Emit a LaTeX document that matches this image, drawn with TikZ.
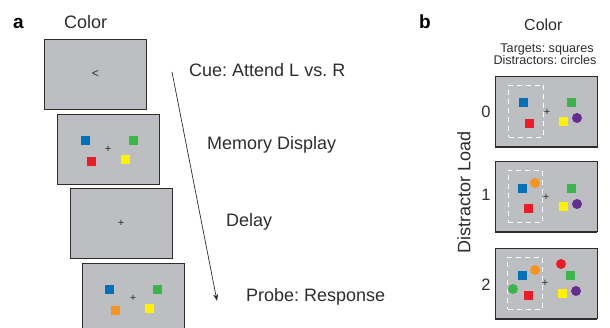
\documentclass[tikz,border=0pt]{standalone}
\usepackage{fontspec}
\setmainfont{Liberation Sans}
\frenchspacing
\usetikzlibrary{arrows.meta}
\usetikzlibrary{positioning}
\definecolor{screengray}{RGB}{189,190,194}
\definecolor{inkgray}{RGB}{45,45,45}
\definecolor{cblue}{RGB}{0,114,188}
\definecolor{cgreen}{RGB}{57,181,74}
\definecolor{cred}{RGB}{237,28,36}
\definecolor{cyellow}{RGB}{255,242,0}
\definecolor{corange}{RGB}{247,148,29}
\definecolor{cpurple}{RGB}{102,45,145}
\tikzset{screen/.style = {draw=inkgray, fill=screengray, line width=0.9pt,
                          minimum width=102pt, minimum height=70pt, inner sep=0}}
\tikzset{screenedge/.style = {draw=inkgray, line width=1.6pt}}
\tikzset{sq/.style = {fill=#1, rectangle, inner sep=0, minimum size=9pt}}
\tikzset{dot/.style = {fill=#1, circle, inner sep=0, minimum size=10pt}}
\tikzset{fixcross/.style = {inner sep=0, text=inkgray, font=\fontsize{11}{11}\selectfont}}
\tikzset{cuebox/.style = {draw=white, dash pattern=on 5pt off 4pt, line width=0.8pt,
                          minimum width=34.5pt, minimum height=52pt, inner sep=0}}
\tikzset{stagetext/.style = {anchor=base west, inner sep=0, text=inkgray,
                             font=\fontsize{18}{18}\selectfont}}
\tikzset{smalltext/.style = {anchor=base, inner sep=0, text=inkgray,
                             font=\fontsize{12.6}{12.6}\selectfont}}
\tikzset{panel/.style = {anchor=base west, inner sep=0, font=\fontsize{19}{19}\selectfont\bfseries}}

\begin{document}
\begin{tikzpicture}[x=1pt, y=-1pt]
      \useasboundingbox (0, 0) rectangle (610, 328);
      \clip (0, 0) rectangle (610, 328);

      % panel a
      \node [panel] (pa) at (13, 29) {a};
      \node [stagetext] (acolor) at (64, 29) {Color};

      \node [screen] (cue) at (95.5, 74) {};
      \node [screen] (mem) at (108, 149) {};
      \node [screen] (delay) at (121, 223) {};
      \node [screen] (probe) at (133, 298) {};

      \node [fixcross, font=\fontsize{12}{12}\selectfont] (cuearrow) at (cue.center) {<};

      \begin{scope}[shift={(mem.center)}]
        \node [sq=cblue] (memblue) at (-23, -8) {};
        \node [sq=cgreen] (memgreen) at (25, -8) {};
        \node [sq=cred] (memred) at (-17, 13) {};
        \node [sq=cyellow] (memyellow) at (17, 11) {};
        \node [fixcross] (memfix) at (0, 0) {+};
      \end{scope}

      \node [fixcross] (delayfix) at (delay.center) {+};

      \begin{scope}[shift={(probe.center)}]
        \node [sq=cblue] (probeblue) at (-24, -8) {};
        \node [sq=cgreen] (probegreen) at (24, -8) {};
        \node [sq=corange] (probeorange) at (-18, 13) {};
        \node [sq=cyellow] (probeyellow) at (16, 11) {};
        \node [fixcross] (probefix) at (0, 0) {+};
      \end{scope}

      \coordinate (tstart) at (172, 72);
      \coordinate (tend) at (217, 301);
      \draw [inkgray, line width=0.7pt, -{Stealth[length=7pt, width=5pt]}] (tstart) -- (tend);

      \node [stagetext] (cuetext) at (189, 77) {Cue: Attend L vs. R};
      \node [stagetext] (memtext) at (207, 150) {Memory Display};
      \node [stagetext] (delaytext) at (226, 227) {Delay};
      \node [stagetext] (probetext) at (246, 302) {Probe: Response};

      % panel b
      \node [panel] (pb) at (419, 29) {b};
      \node [stagetext, font=\fontsize{16}{16}\selectfont] (bcolor) at (524, 30.5) {Color};
      \node [smalltext] (targets) at (547, 52.5) {Targets: squares};
      \node [smalltext] (distractors) at (545, 64.5) {Distractors: circles};

      \node [screen] (b0) at (546.5, 111.5) {};
      \node [screen] (b1) at (546, 196.5) {};
      \node [screen] (b2) at (546, 283.5) {};

      \node [inner sep=0, text=inkgray, font=\fontsize{16.5}{16.5}\selectfont] (n0) at (486, 112) {0};
      \node [inner sep=0, text=inkgray, font=\fontsize{16.5}{16.5}\selectfont] (n1) at (486, 195) {1};
      \node [inner sep=0, text=inkgray, font=\fontsize{16.5}{16.5}\selectfont] (n2) at (486, 285) {2};
      \node [rotate=90, inner sep=0, text=inkgray, font=\fontsize{18}{18}\selectfont]
            (loadtext) at (464, 192) {Distractor Load};

      \begin{scope}[shift={(b0.center)}]
        \node [cuebox] (b0box) at (-20.75, -0.5) {};
        \node [sq=cblue] (b0blue) at (-23.5, -8.5) {};
        \node [sq=cred] (b0red) at (-17.5, 12.5) {};
        \node [fixcross] (b0fix) at (0.5, 0.5) {+};
        \node [sq=cgreen] (b0green) at (24.5, -8.5) {};
        \node [sq=cyellow] (b0yellow) at (16.5, 10.5) {};
        \node [dot=cpurple] (b0purple) at (30.5, 6.5) {};
      \end{scope}

      \begin{scope}[shift={(b1.center)}]
        \node [cuebox] (b1box) at (-20.75, 0) {};
        \node [sq=cblue] (b1blue) at (-24, -7.5) {};
        \node [dot=corange] (b1orange) at (-11, -13.5) {};
        \node [sq=cred] (b1red) at (-18, 12.5) {};
        \node [fixcross] (b1fix) at (0, 0.5) {+};
        \node [sq=cgreen] (b1green) at (25, -7.5) {};
        \node [sq=cyellow] (b1yellow) at (17, 10.5) {};
        \node [dot=cpurple] (b1purple) at (31, 7.5) {};
      \end{scope}

      \begin{scope}[shift={(b2.center)}]
        \node [cuebox] (b2box) at (-21, 0) {};
        \node [sq=cblue] (b2blue) at (-24, -7.5) {};
        \node [dot=corange] (b2orange) at (-11, -13.5) {};
        \node [dot=cgreen] (b2greendot) at (-33, 5.5) {};
        \node [sq=cred] (b2red) at (-18, 12.5) {};
        \node [fixcross] (b2fix) at (-1, -0.5) {+};
        \node [dot=cred] (b2reddot) at (15, -19.5) {};
        \node [sq=cgreen] (b2green) at (24, -7.5) {};
        \node [sq=cyellow] (b2yellow) at (16, 10.5) {};
        \node [dot=cpurple] (b2purple) at (30, 7.5) {};
      \end{scope}

      \foreach \s in {cue, mem, delay, b0, b1, b2}
        \draw [screenedge] (\s.south west) -- (\s.south east);
\end{tikzpicture}
\end{document}
